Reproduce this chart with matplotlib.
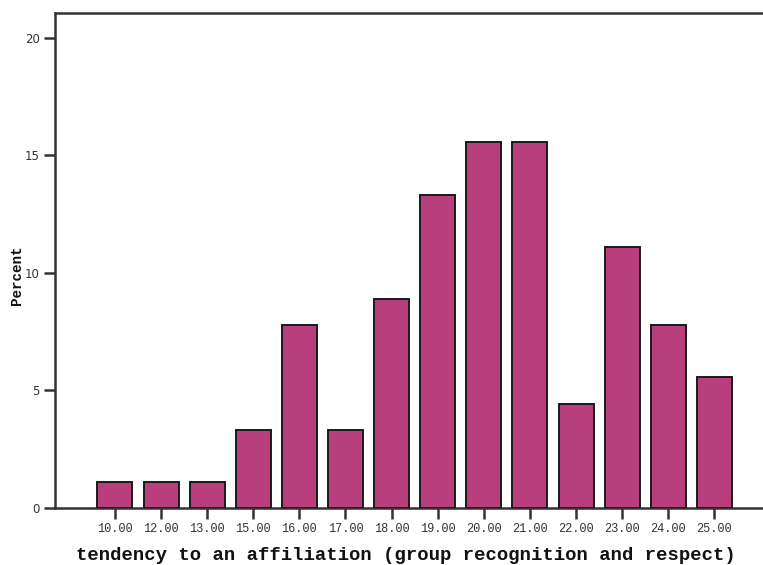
import matplotlib
matplotlib.use("Agg")
import matplotlib.pyplot as plt

categories = ["10.00", "12.00", "13.00", "15.00", "16.00", "17.00", "18.00",
              "19.00", "20.00", "21.00", "22.00", "23.00", "24.00", "25.00"]
percent = [1.11, 1.11, 1.11, 3.33, 7.78, 3.33, 8.89,
           13.33, 15.56, 15.56, 4.44, 11.11, 7.78, 5.56]
y_ticks = [0, 5, 10, 15, 20]

fig = plt.figure(figsize=(7.63, 5.65), dpi=100)
ax = fig.add_axes([55/763, 1-508/565, 1.0 - 55/763 + 0.01, (508-13)/565])

x = list(range(len(categories)))
ax.bar(x, percent, width=0.76, color="#B93E7C", edgecolor="#1a1a1a", linewidth=1.4, zorder=3)

ax.set_xlim(-1.30, 14.22)
ax.set_ylim(0, 21.06)
ax.set_xticks(x)
ax.set_xticklabels(categories, family="Liberation Mono", fontsize=8.6, color="#333333")
ax.set_yticks(y_ticks)
ax.set_yticklabels([str(v) for v in y_ticks], family="DejaVu Sans", fontsize=8.5, color="#333333")
ax.tick_params(axis="x", direction="out", length=8, width=1.8, color="#333333", pad=3)
ax.tick_params(axis="y", direction="out", length=8, width=1.8, color="#333333", pad=3)

for s in ["left", "top", "bottom"]:
    ax.spines[s].set_color("#333333")
    ax.spines[s].set_linewidth(1.8)
ax.spines["right"].set_visible(False)

fig.text(406/763, 1-555/565, "tendency to an affiliation (group recognition and respect)",
         family="Liberation Mono", fontweight="bold", fontsize=13.6,
         ha="center", va="center", color="#111111")
fig.text(17/763, 1-275/565, "Percent", family="Liberation Mono", fontweight="bold",
         fontsize=10.3, rotation=90, ha="center", va="center", color="#111111")

fig.savefig("out.png", dpi=100)
